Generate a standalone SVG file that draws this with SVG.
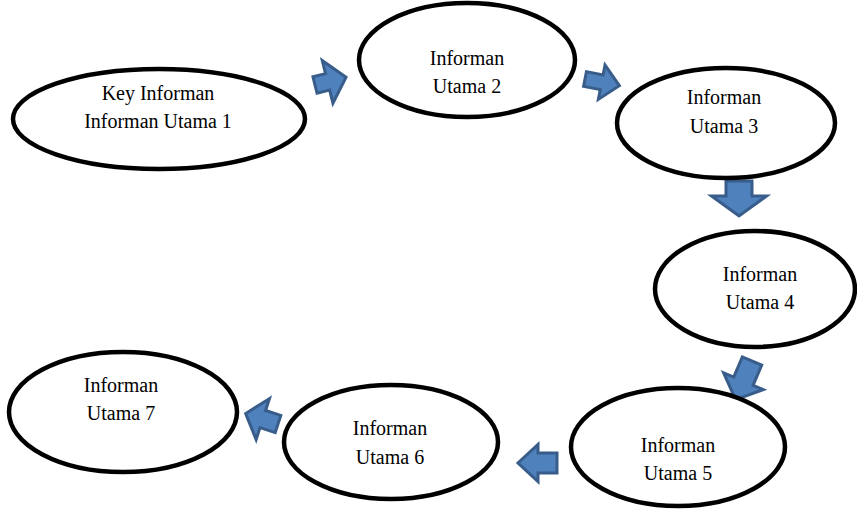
<svg xmlns="http://www.w3.org/2000/svg" width="857" height="516" viewBox="0 0 857 516">
<style>
.nd ellipse{fill:#fff;stroke:#000;stroke-width:4.5}
.nd text{font-family:"Liberation Serif","Times New Roman",serif;font-size:20px;fill:#000;text-anchor:middle}
.arr{fill:#4F81BD;stroke:#385D8A;stroke-width:3;stroke-linejoin:miter}
</style>
<rect width="857" height="516" fill="#fff"/>
<g id="connectors">
<polygon class="arr" transform="translate(315,85) rotate(-14)" points="0,-8.5 13,-8.5 13,-22 32,0 13,22 13,8.5 0,8.5"/>
<polygon class="arr" transform="translate(585,79) rotate(11)" points="0,-7.5 17,-7.5 17,-17.5 35,0 17,17.5 17,7.5 0,7.5"/>
<polygon class="arr" transform="translate(739,181) rotate(90)" points="0,-13 15,-13 15,-27.5 35,0 15,27.5 15,13 0,13"/>
<polygon class="arr" transform="translate(752,361) rotate(113)" points="0,-10.5 22,-10.5 22,-21.5 42,0 22,21.5 22,10.5 0,10.5"/>
<polygon class="arr" transform="translate(557,463) rotate(180)" points="0,-10 19,-10 19,-18.5 39,0 19,18.5 19,10 0,10"/>
<polygon class="arr" transform="translate(278,424) rotate(198)" points="0,-9 16,-9 16,-21.5 34,0 16,21.5 16,9 0,9"/>
</g>
<g id="n1" class="nd"><ellipse cx="159" cy="119" rx="146" ry="50"/><text x="158" y="100">Key Informan</text><text x="158" y="128">Informan Utama 1</text></g>
<g id="n2" class="nd"><ellipse cx="467" cy="60" rx="108" ry="57"/><text x="467" y="65">Informan</text><text x="467" y="93">Utama 2</text></g>
<g id="n3" class="nd"><ellipse cx="726" cy="123" rx="109" ry="55"/><text x="724" y="104">Informan</text><text x="724" y="133">Utama 3</text></g>
<g id="n4" class="nd"><ellipse cx="755" cy="289" rx="100" ry="58"/><text x="760" y="281">Informan</text><text x="760" y="309">Utama 4</text></g>
<g id="n5" class="nd"><ellipse cx="678" cy="447" rx="107" ry="59"/><text x="678" y="452">Informan</text><text x="678" y="480">Utama 5</text></g>
<g id="n6" class="nd"><ellipse cx="391" cy="442" rx="107" ry="57"/><text x="390" y="435">Informan</text><text x="390" y="464">Utama 6</text></g>
<g id="n7" class="nd"><ellipse cx="123" cy="412" rx="114" ry="60"/><text x="121" y="392">Informan</text><text x="121" y="420">Utama 7</text></g>
</svg>
